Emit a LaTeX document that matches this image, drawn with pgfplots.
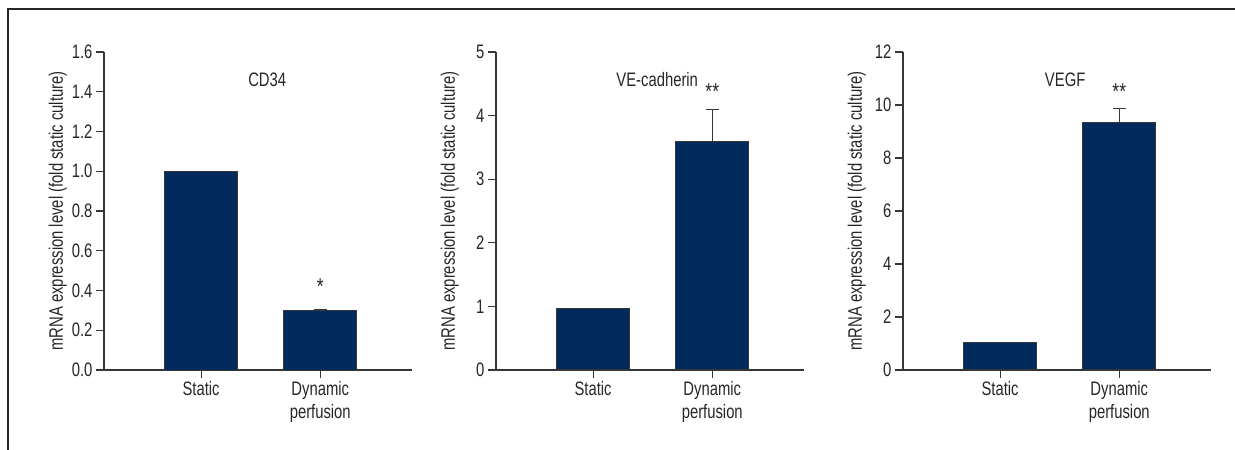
\documentclass[border=0pt]{standalone}
\usepackage{fontspec}
\setmainfont{Liberation Sans}[FakeStretch=0.76]
\usepackage{pgfplots}
\pgfplotsset{compat=1.18}

\definecolor{barblue}{RGB}{2,42,92}
\definecolor{axisgray}{RGB}{55,55,55}
\newcommand{\lbl}{\fontsize{19.5}{23}\selectfont}
\newcommand{\starfont}{\fontsize{23}{24}\selectfont}

\pgfplotsset{
  panel/.style={
    scale only axis, width=308pt, height=318pt, anchor=south west,
    axis lines*=left, axis line style={axisgray, line width=1.2pt},
    tick align=outside, major tick length=8pt,
    tick style={axisgray, line width=1.2pt},
    xmin=-0.815, xmax=1.77, xtick={0,1},
    xticklabels={Static,Dynamic\\perfusion},
    xticklabel style={align=center, font=\lbl, text=black!85},
    yticklabel style={font=\lbl, text=black!85},
    ymin=0, ybar, bar width=73pt,
    ylabel={mRNA expression level (fold static culture)},
    every axis y label/.style={at={(axis description cs:-0.15,0.5)},
      rotate=90, anchor=center, font=\lbl, text=black!85},
    /pgf/number format/assume math mode=true,
    clip=false,
  },
  bars/.style={fill=barblue, draw=axisgray, line width=1pt,
    error bars/.cd, y dir=plus, y explicit,
    error bar style={line width=1.2pt, axisgray},
    error mark options={rotate=90, mark size=6.5pt, line width=1.2pt, axisgray}},
}

\begin{document}
\begin{tikzpicture}
\useasboundingbox (0,0) rectangle (1235pt,450pt);
\draw[line width=1.2pt, black!85] (8pt,0pt) -- (8pt,441pt) -- (1235pt,441pt);

% CD34
\begin{axis}[panel, at={(104pt,80pt)}, ymax=1.6, ytick={0,0.2,...,1.6},
  yticklabel style={/pgf/number format/.cd, fixed, fixed zerofill, precision=1}]
\addplot[bars] table[x=x, y=y, y error=e] {
x y e
0 1.00 0
1 0.298 0.008
};
\node[anchor=base, font=\lbl, text=black!85] at (axis cs:0.555,1.425) {CD34};
\node[anchor=base, font=\starfont, text=black!85] at (axis cs:1,0.38) {*};
\end{axis}

% VE-cadherin
\begin{axis}[panel, at={(496pt,80pt)}, ymax=5, ytick={0,1,...,5}]
\addplot[bars] table[x=x, y=y, y error=e] {
x y e
0 0.97 0
1 3.59 0.50
};
\node[anchor=base, font=\lbl, text=black!85] at (axis cs:0.538,4.45) {VE-cadherin};
\node[anchor=base, font=\starfont, text=black!85] at (axis cs:1,4.25) {**};
\end{axis}

% VEGF
\begin{axis}[panel, at={(903pt,80pt)}, ymax=12, ytick={0,2,...,12}]
\addplot[bars] table[x=x, y=y, y error=e] {
x y e
0 1.05 0
1 9.33 0.55
};
\node[anchor=base, font=\lbl, text=black!85] at (axis cs:0.546,10.69) {VEGF};
\node[anchor=base, font=\starfont, text=black!85] at (axis cs:1,10.2) {**};
\end{axis}
\end{tikzpicture}
\end{document}
